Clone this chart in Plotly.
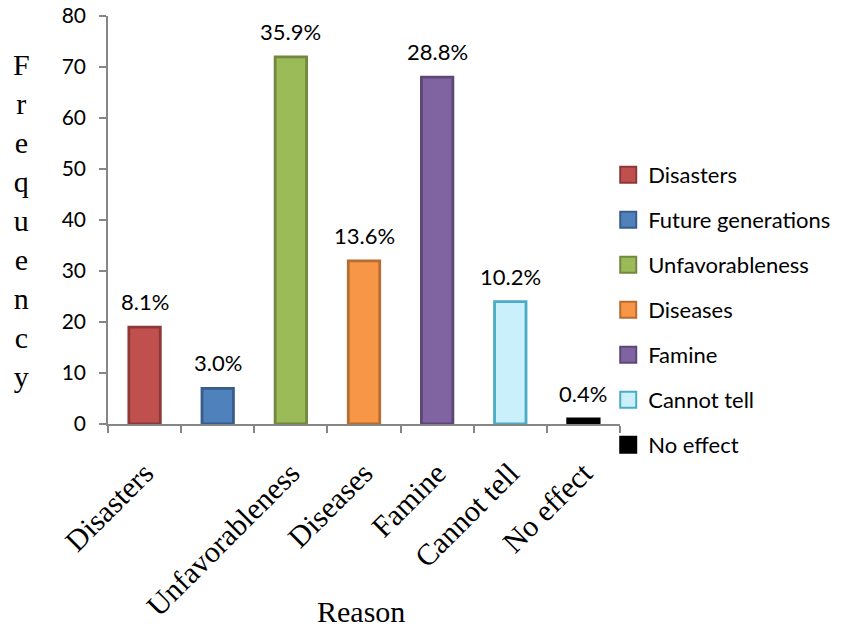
import plotly.graph_objects as go

# Reasons, frequencies and the percentage shares printed above each bar
categories = ["Disasters", "Future generations", "Unfavorableness", "Diseases",
              "Famine", "Cannot tell", "No effect"]
frequency = [19, 7, 72, 32, 68, 24, 1]
percent_labels = ["8.1%", "3.0%", "35.9%", "13.6%", "28.8%", "10.2%", "0.4%"]
# category labels written under the axis (the second one is left blank)
tick_labels = ["Disasters", "", "Unfavorableness", "Diseases", "Famine",
               "Cannot tell", "No effect"]
y_ticks = [0, 10, 20, 30, 40, 50, 60, 70, 80]

fill_colors = ["#C0504D", "#4F81BD", "#9BBB59", "#F79646", "#8064A2", "#C9F0FB", "#000000"]
edge_colors = ["#8C3836", "#385D8A", "#71893F", "#B66D31", "#5C4776", "#4BACC6", "#000000"]

SANS = "Lato, 'Liberation Sans', sans-serif"
SERIF = "'Liberation Serif', 'Times New Roman', serif"

fig = go.Figure()

fig.add_trace(go.Bar(
    x=categories, y=frequency,
    marker=dict(color=fill_colors, line=dict(color=edge_colors, width=2.8)),
    width=0.43, showlegend=False, hoverinfo="x+y",
))

# legend entries as square swatches, one per reason
for name, fc, ec in zip(categories, fill_colors, edge_colors):
    fig.add_trace(go.Scatter(
        x=[None], y=[None], mode="markers", name=name, legendgroup=name,
        marker=dict(symbol="square", size=16, color=fc, line=dict(color=ec, width=2)),
    ))

# percentage labels above bars
for cat, val, lab in zip(categories, frequency, percent_labels):
    fig.add_annotation(x=cat, y=val, text=lab, showarrow=False, xref="x", yref="y",
                       yanchor="bottom", yshift=10, font=dict(family=SANS, size=22, color="#000"))

# vertical axis title, one letter per line
fig.add_annotation(text="<br>".join("Frequency"), xref="paper", yref="paper",
                   x=-0.168, y=0.5, xanchor="center", yanchor="middle", showarrow=False,
                   font=dict(family=SERIF, size=30, color="#000"))
fig.add_annotation(text="Reason", xref="paper", yref="paper", x=0.495, y=-0.46,
                   xanchor="center", yanchor="middle", showarrow=False,
                   font=dict(family=SERIF, size=30, color="#000"))

fig.update_layout(
    width=848, height=629,
    margin=dict(l=108, r=220, t=16, b=205),
    paper_bgcolor="white", plot_bgcolor="white",
    bargap=0.57,
    legend=dict(x=0.977, y=0.662, xanchor="left", yanchor="top",
                font=dict(family=SANS, size=22, color="#000"),
                tracegroupgap=13.4, itemwidth=30, bgcolor="rgba(0,0,0,0)"),
)
fig.update_xaxes(
    type="category", tickmode="array", tickvals=categories, ticktext=tick_labels,
    tickangle=-45, tickson="boundaries", ticks="outside", ticklen=7, tickwidth=1.5,
    tickcolor="#868686", showline=True, linecolor="#868686", linewidth=1.5,
    showgrid=False, ticklabelstandoff=18, automargin=False,
    tickfont=dict(family=SERIF, size=30, color="#000"),
)
fig.update_yaxes(
    range=[0, 80], tickmode="array", tickvals=y_ticks, ticks="outside", ticklen=7,
    tickwidth=1.5, tickcolor="#868686", showline=True, linecolor="#868686", linewidth=1.5,
    showgrid=False, zeroline=False, automargin=False, ticklabelstandoff=9,
    tickfont=dict(family=SANS, size=21, color="#000"),
)

fig.write_html("out.html")
